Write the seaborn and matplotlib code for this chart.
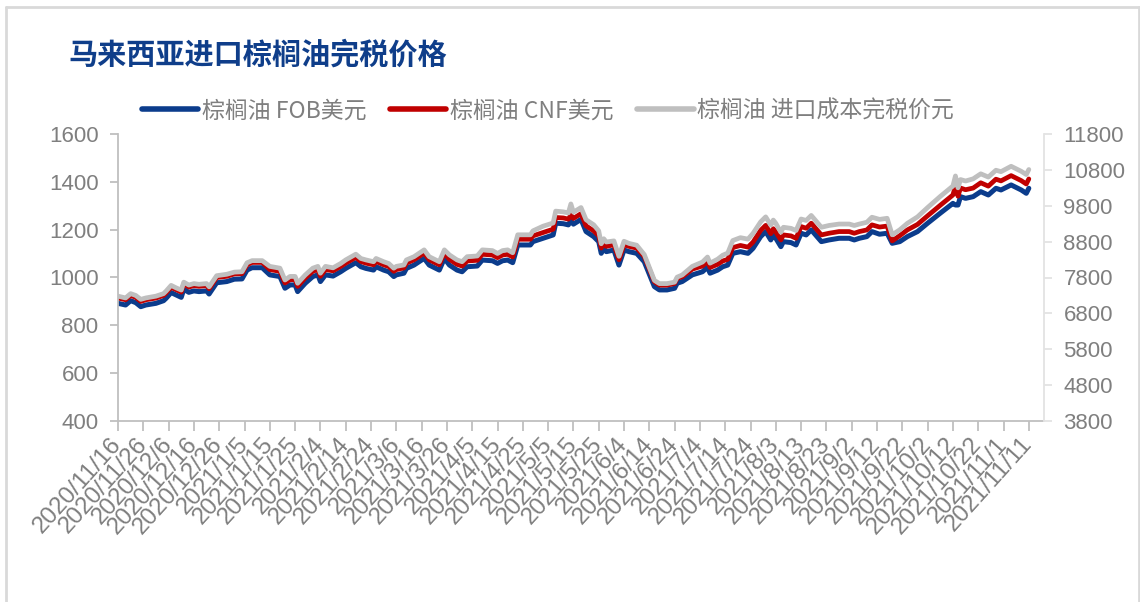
import matplotlib
matplotlib.use("Agg")
import matplotlib.pyplot as plt
from matplotlib.lines import Line2D
import pandas as pd
import seaborn as sns

# ---------------- data ----------------
dates = [
    "2020-11-16", "2020-11-19", "2020-11-21", "2020-11-23", "2020-11-25", "2020-11-27",
    "2020-12-01", "2020-12-04", "2020-12-05", "2020-12-07", "2020-12-09", "2020-12-11",
    "2020-12-12", "2020-12-14", "2020-12-16", "2020-12-18", "2020-12-21", "2020-12-22",
    "2020-12-25", "2020-12-29",
    "2021-01-01", "2021-01-04", "2021-01-06", "2021-01-08", "2021-01-12", "2021-01-15",
    "2021-01-19", "2021-01-21", "2021-01-23", "2021-01-25", "2021-01-26", "2021-01-29",
    "2021-02-01", "2021-02-03", "2021-02-04", "2021-02-06", "2021-02-09", "2021-02-12",
    "2021-02-14", "2021-02-18", "2021-02-20", "2021-02-22", "2021-02-25", "2021-02-26",
    "2021-03-01", "2021-03-03", "2021-03-05", "2021-03-06", "2021-03-09", "2021-03-10",
    "2021-03-13", "2021-03-17", "2021-03-19", "2021-03-23", "2021-03-25", "2021-03-27",
    "2021-03-30",
    "2021-04-01", "2021-04-03", "2021-04-07", "2021-04-09", "2021-04-13", "2021-04-15",
    "2021-04-17", "2021-04-19", "2021-04-21", "2021-04-23", "2021-04-28", "2021-04-29",
    "2021-05-03", "2021-05-07", "2021-05-08", "2021-05-11", "2021-05-13", "2021-05-14",
    "2021-05-15", "2021-05-18", "2021-05-20", "2021-05-23", "2021-05-25", "2021-05-26",
    "2021-05-27", "2021-05-28", "2021-05-31",
    "2021-06-02", "2021-06-04", "2021-06-06", "2021-06-09", "2021-06-12", "2021-06-16",
    "2021-06-18", "2021-06-21", "2021-06-24", "2021-06-25", "2021-06-27", "2021-06-29",
    "2021-07-01", "2021-07-05", "2021-07-07", "2021-07-08", "2021-07-11", "2021-07-13",
    "2021-07-15", "2021-07-17", "2021-07-20", "2021-07-23", "2021-07-25", "2021-07-28",
    "2021-07-30",
    "2021-08-01", "2021-08-02", "2021-08-03", "2021-08-05", "2021-08-06", "2021-08-09",
    "2021-08-11", "2021-08-13", "2021-08-15", "2021-08-17", "2021-08-21", "2021-08-24",
    "2021-08-28",
    "2021-09-01", "2021-09-03", "2021-09-05", "2021-09-08", "2021-09-10", "2021-09-13",
    "2021-09-16", "2021-09-18", "2021-09-21", "2021-09-24", "2021-09-28",
    "2021-10-02", "2021-10-07", "2021-10-12", "2021-10-13", "2021-10-14", "2021-10-15",
    "2021-10-17", "2021-10-20", "2021-10-23", "2021-10-26", "2021-10-29", "2021-10-31",
    "2021-11-04", "2021-11-08", "2021-11-10", "2021-11-11",
]

fob_usd = [
    892, 885, 903, 895, 878, 885,
    892, 903, 913, 937, 927, 917, 951, 938, 944, 941, 944, 931, 978, 983,
    993, 994, 1031, 1041, 1041, 1011, 1004, 955, 969, 969, 941, 976,
    1004, 1011, 983, 1011, 1006, 1024, 1038, 1062, 1045, 1038, 1031, 1045,
    1031, 1024, 1004, 1011, 1018, 1038, 1052, 1080, 1052, 1031, 1080, 1052, 1031,
    1024, 1045, 1048, 1073, 1070, 1059, 1070, 1073, 1062, 1136, 1136, 1150,
    1164, 1178, 1227, 1225, 1220, 1238, 1223, 1243, 1192, 1171, 1150, 1101, 1122, 1108, 1115,
    1052, 1115, 1108, 1101, 1066, 962, 948, 948, 955, 976, 983, 997,
    1011, 1024, 1043, 1018, 1031, 1045, 1052, 1101, 1108, 1101, 1122, 1171, 1192,
    1157, 1178, 1164, 1129, 1150, 1146, 1136, 1185, 1178, 1199, 1150, 1157, 1164,
    1164, 1157, 1164, 1171, 1192, 1181, 1185, 1143, 1150, 1171, 1192,
    1227, 1269, 1310, 1303, 1303, 1338, 1331, 1338, 1359, 1345, 1373, 1366,
    1387, 1366, 1352, 1373,
]

cnf_usd = [
    914, 907, 925, 917, 900, 907,
    914, 925, 935, 959, 949, 939, 973, 960, 966, 963, 966, 953, 1000, 1005,
    1015, 1016, 1053, 1063, 1063, 1033, 1026, 977, 991, 991, 963, 998,
    1026, 1033, 1005, 1033, 1028, 1046, 1060, 1084, 1067, 1060, 1053, 1067,
    1053, 1046, 1026, 1033, 1040, 1060, 1074, 1102, 1074, 1053, 1102, 1076, 1055,
    1048, 1069, 1072, 1097, 1094, 1083, 1094, 1097, 1086, 1160, 1160, 1174,
    1188, 1202, 1251, 1249, 1244, 1262, 1247, 1267, 1216, 1195, 1174, 1123, 1144, 1130, 1137,
    1074, 1137, 1130, 1123, 1088, 982, 968, 968, 975, 996, 1003, 1019,
    1035, 1048, 1067, 1042, 1055, 1069, 1076, 1125, 1134, 1127, 1148, 1197, 1218,
    1183, 1204, 1190, 1157, 1178, 1174, 1164, 1213, 1206, 1227, 1178, 1185, 1192,
    1192, 1185, 1192, 1199, 1220, 1211, 1215, 1153, 1175, 1199, 1222,
    1258, 1302, 1345, 1383, 1340, 1374, 1367, 1374, 1396, 1382, 1411, 1404,
    1426, 1405, 1391, 1412,
]

cost_cny = [
    7280, 7230, 7350, 7300, 7190, 7230,
    7280, 7350, 7420, 7580, 7510, 7450, 7670, 7590, 7630, 7610, 7630, 7540, 7850, 7890,
    7950, 7960, 8210, 8270, 8270, 8110, 8060, 7730, 7830, 7830, 7640, 7870,
    8060, 8110, 7920, 8110, 8070, 8190, 8290, 8450, 8330, 8290, 8240, 8330,
    8240, 8190, 8060, 8110, 8150, 8290, 8380, 8570, 8380, 8240, 8570, 8430, 8290,
    8240, 8380, 8400, 8570, 8550, 8470, 8550, 8570, 8490, 8990, 8990, 9100,
    9230, 9320, 9650, 9630, 9600, 9850, 9620, 9750, 9410, 9270, 9100, 8740, 8880, 8790, 8820,
    8390, 8810, 8750, 8700, 8440, 7720, 7630, 7630, 7670, 7810, 7870, 7990,
    8110, 8230, 8370, 8200, 8310, 8420, 8480, 8830, 8910, 8870, 9030, 9350, 9490,
    9260, 9400, 9310, 9060, 9200, 9170, 9110, 9430, 9390, 9530, 9200, 9250, 9290,
    9290, 9250, 9290, 9340, 9480, 9420, 9450, 8990, 9130, 9310, 9490,
    9750, 10060, 10350, 10630, 10300, 10530, 10490, 10550, 10690, 10600, 10790, 10750,
    10900, 10760, 10670, 10810,
]

title = "马来西亚进口棕榈油完税价格"
series_names = ["棕榈油 FOB美元", "棕榈油 CNF美元", "棕榈油 进口成本完税价元"]
left_ticks = [400, 600, 800, 1000, 1200, 1400, 1600]
right_ticks = [3800, 4800, 5800, 6800, 7800, 8800, 9800, 10800, 11800]
x_tick_first = "2020-11-16"
x_tick_last = "2021-11-11"
x_axis_end = "2021-11-17"

# ---------------- style ----------------
BLUE = "#0b3c8c"
RED = "#c00000"
GRAY = "#bfbfbf"
TXT = "#7f7f7f"
AX = "#bfbfbf"

sns.set_theme(style="white")
plt.rcParams["font.family"] = ["Liberation Sans", "Noto Sans CJK SC", "DejaVu Sans"]

df = pd.DataFrame({
    "date": pd.to_datetime(dates),
    "fob": fob_usd,
    "cnf": cnf_usd,
    "cost": cost_cny,
})

fig = plt.figure(figsize=(11.4, 6.02), dpi=100)
ax = fig.add_axes([118 / 1140, 1 - 421 / 602, (1044 - 118) / 1140, (421 - 134) / 602])
ax2 = ax.twinx()

lw = 3.6
sns.lineplot(data=df, x="date", y="fob", ax=ax, color=BLUE, lw=lw, legend=False,
             solid_joinstyle="round", solid_capstyle="round")
sns.lineplot(data=df, x="date", y="cnf", ax=ax, color=RED, lw=lw * 0.95, legend=False,
             solid_joinstyle="round", solid_capstyle="round")
sns.lineplot(data=df, x="date", y="cost", ax=ax2, color=GRAY, lw=lw * 0.95, legend=False,
             solid_joinstyle="round", solid_capstyle="round")

# axes ranges
ax.set_ylim(left_ticks[0], left_ticks[-1])
ax.set_yticks(left_ticks)
ax2.set_ylim(right_ticks[0], right_ticks[-1])
ax2.set_yticks(right_ticks)
ax.set_xlim(pd.Timestamp(x_tick_first), pd.Timestamp(x_axis_end))

xt = pd.date_range(x_tick_first, x_tick_last, freq="10D")
ax.set_xticks(xt)
ax.set_xticklabels([f"{d.year}/{d.month}/{d.day}" for d in xt],
                   rotation=48, ha="right", va="center", rotation_mode="anchor")

for a in (ax, ax2):
    a.set_xlabel("")
    a.set_ylabel("")
    a.grid(False)
    for s in a.spines.values():
        s.set_visible(False)

ax.spines["left"].set_visible(True)
ax.spines["bottom"].set_visible(True)
ax.spines["left"].set_color(AX)
ax.spines["bottom"].set_color(AX)
ax.spines["left"].set_linewidth(1.3)
ax.spines["bottom"].set_linewidth(1.3)
ax2.spines["right"].set_visible(True)
ax2.spines["right"].set_color("#e3e3e3")
ax2.spines["right"].set_linewidth(1.3)

ax.tick_params(axis="x", bottom=True, direction="out", length=7, width=1.3, color=AX,
               labelsize=17.5, labelcolor=TXT, pad=7)
ax.tick_params(axis="y", left=True, direction="out", length=6, width=1.3, color=AX,
               labelsize=16, labelcolor=TXT, pad=8)
ax2.tick_params(axis="y", right=True, direction="out", length=6, width=1.3, color="#e3e3e3",
                labelsize=16, labelcolor=TXT, pad=8)

# legend
handles = [Line2D([0], [0], color=c, lw=4) for c in (BLUE, RED, GRAY)]
leg = fig.legend(handles, series_names, loc="center", bbox_to_anchor=(548 / 1140, 1 - 111 / 602),
                 ncol=3, frameon=False, handlelength=2.45, handletextpad=0.15,
                 columnspacing=1.05, prop={"family": ["Noto Sans CJK SC", "DejaVu Sans"], "size": 16.5})
for t in leg.get_texts():
    t.set_color(TXT)

# title
fig.text(68 / 1140, 1 - 55 / 602, title, color="#0f3e8a", fontsize=21, fontweight="bold",
         family=["Noto Sans CJK SC", "DejaVu Sans"], ha="left", va="center")

# frame border (left, top, right)
bc = "#d9d9d9"
fig.add_artist(Line2D([6 / 1140, 6 / 1140], [0, 1 - 6.5 / 602], color=bc, lw=2, transform=fig.transFigure))
fig.add_artist(Line2D([6 / 1140, 1138.5 / 1140], [1 - 6.5 / 602, 1 - 6.5 / 602], color=bc, lw=2, transform=fig.transFigure))
fig.add_artist(Line2D([1138.5 / 1140, 1138.5 / 1140], [0, 1 - 6.5 / 602], color=bc, lw=2, transform=fig.transFigure))

fig.savefig("out.png", dpi=100)
